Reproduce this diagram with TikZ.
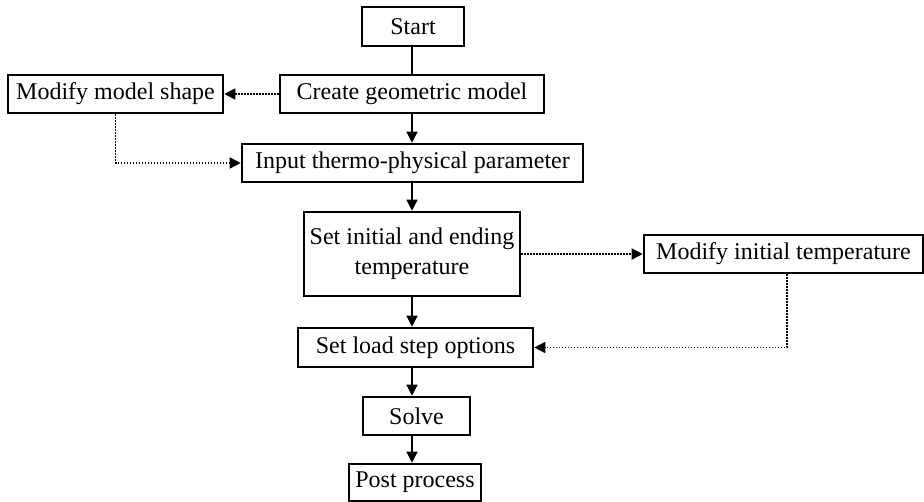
\documentclass[tikz,border=0pt]{standalone}
\usepackage{fontspec}
\setmainfont{Liberation Serif}
\usetikzlibrary{arrows.meta,calc}

\begin{document}
\begin{tikzpicture}[x=0.5pt,y=-0.5pt,
  box/.style={draw,line width=1.3pt,inner sep=0pt,align=center,font=\fontsize{12}{15}\selectfont},
  flow/.style={line width=0.7pt},
  loop/.style={line width=0.85pt,dash pattern=on 0.8pt off 0.7pt},
  >={Triangle[length=5.5pt,width=5.5pt]}]

\useasboundingbox (0,0) rectangle (924,502);

% Main column
\node (start) at (413,26.5) [box,minimum width=51pt,minimum height=19.5pt] {Start};
\node (create) at (412,94) [box,minimum width=132pt,minimum height=19pt] {Create geometric model};
\node (input) at (412.5,163) [box,minimum width=170.5pt,minimum height=19pt] {Input thermo-physical parameter};
\node (setinit) at (412,254) [box,minimum width=108pt,minimum height=42pt] {Set initial and ending\\temperature};
\node (load) at (415.5,347.5) [box,minimum width=117.5pt,minimum height=19.5pt] {Set load step options};
\node (solve) at (416.5,416) [box,minimum width=53.5pt,minimum height=19pt] {Solve};
\node (post) at (415,482.5) [box,minimum width=66pt,minimum height=18.5pt] {Post process};
\coordinate (spine) at (412,0);

% Side boxes
\node (shape) at (115.5,94) [box,minimum width=107.5pt,minimum height=19pt] {Modify model shape};
\node (modtemp) at (783.5,254) [box,minimum width=139.5pt,minimum height=19pt] {Modify initial temperature};

% Flow
\draw[flow] (start.south -| spine) -- (create.north -| spine);
\draw[flow,->] (create.south -| spine) -- (input.north -| spine);
\draw[flow,->] (input.south -| spine) -- (setinit.north -| spine);
\draw[flow,->] (setinit.south -| spine) -- (load.north -| spine);
\draw[flow,->] (load.south -| spine) -- (solve.north -| spine);
\draw[flow,->] (solve.south -| spine) -- (post.north -| spine);

% Modification loops
\draw[loop,->] (create) -- (shape);
\draw[loop,->] (shape.south) |- (input);
\draw[loop,->] (setinit) -- (modtemp);
\draw[loop,->] ($(modtemp.south)+(3.5,0)$) |- (load);

\end{tikzpicture}
\end{document}
